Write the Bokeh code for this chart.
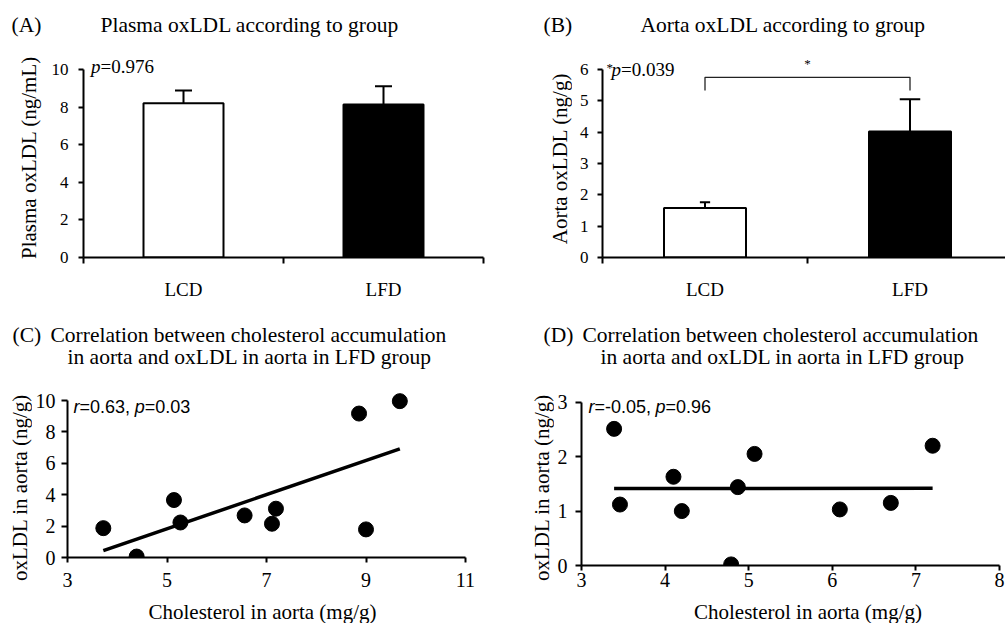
import numpy as np
from bokeh.plotting import figure
from bokeh.layouts import column, row
from bokeh.models import Range1d, FixedTicker, Label
from bokeh.embed import file_html
from bokeh.resources import INLINE

# ---------------- data ----------------
groups = ["LCD", "LFD"]
bar_colors = ["white", "black"]

plasma_oxldl = [8.21, 8.14]
plasma_err = [0.67, 0.97]
plasma_p = "=0.976"

aorta_oxldl = [1.58, 4.02]
aorta_err = [0.18, 1.03]
aorta_p = "=0.039"
bracket_top = 5.75
bracket_drop = 5.33

c_chol = [3.72, 4.39, 5.14, 5.27, 6.56, 7.11, 7.19, 8.86, 9.00, 9.68]
c_oxldl = [1.87, 0.06, 3.66, 2.23, 2.68, 2.15, 3.11, 9.17, 1.79, 9.96]
c_r, c_p = "=0.63, ", "=0.03"

d_chol = [3.39, 3.46, 4.10, 4.20, 4.79, 4.87, 5.07, 6.09, 6.70, 7.20]
d_oxldl = [2.51, 1.12, 1.63, 1.00, 0.02, 1.44, 2.05, 1.03, 1.15, 2.20]
d_r, d_p = "=-0.05, ", "=0.96"

a_yticks = [0, 2, 4, 6, 8, 10]
b_yticks = [0, 1, 2, 3, 4, 5, 6]
c_xticks = [3, 5, 7, 9, 11]
c_yticks = [0, 2, 4, 6, 8, 10]
d_xticks = [3, 4, 5, 6, 7, 8]
d_yticks = [0, 1, 2, 3]

title_a = "Plasma oxLDL according to group"
title_b = "Aorta oxLDL according to group"
title_cd = ["Correlation between cholesterol accumulation",
            "in aorta and oxLDL in aorta in LFD group"]
ylab_a = "Plasma oxLDL (ng/mL)"
ylab_b = "Aorta oxLDL (ng/g)"
ylab_cd = "oxLDL in aorta (ng/g)"
xlab_cd = "Cholesterol in aorta (mg/g)"

SERIF = "Liberation Serif"
SANS = "Liberation Sans"
W = 997
BASE_FIX = 0.33  # em: correction so the given y is the alphabetic baseline


def base_fig(left, top, width, height, bl, br, bt, bb, xr, yr, xloc="below", yloc="left"):
    p = figure(width=width, height=height, x_range=Range1d(*xr), y_range=Range1d(*yr),
               output_backend="svg", toolbar_location=None, tools="",
               x_axis_location=xloc, y_axis_location=yloc,
               min_border_left=bl, min_border_right=br, min_border_top=bt, min_border_bottom=bb)
    p.frame_align = False
    p.grid.visible = False
    p.outline_line_color = None
    p.background_fill_color = "white"
    p.border_fill_color = "white"
    g = dict(L=left + bl, R=left + width - br, T=top + bt, B=top + height - bb, xr=xr, yr=yr)
    return p, g


def style_axis(ax, size, standoff, tick_out=5):
    ax.axis_line_width = 2
    ax.axis_line_color = "black"
    ax.major_tick_line_width = 2
    ax.major_tick_line_color = "black"
    ax.major_tick_in = 0
    ax.major_tick_out = tick_out
    ax.minor_tick_line_color = None
    ax.major_label_text_font = SERIF
    ax.major_label_text_font_size = f"{size}px"
    ax.major_label_text_color = "black"
    ax.major_label_standoff = standoff


def strip(left, top, width, height):
    return base_fig(left, top, width, height, 0, 0, 0, 0, (0, width), (0, height),
                    xloc=None, yloc=None)


def to_data(g, px, py):
    x = g["xr"][0] + (px - g["L"]) / (g["R"] - g["L"]) * (g["xr"][1] - g["xr"][0])
    y = g["yr"][0] + (g["B"] - py) / (g["B"] - g["T"]) * (g["yr"][1] - g["yr"][0])
    return x, y


def to_page_x(g, x):
    return g["L"] + (x - g["xr"][0]) / (g["xr"][1] - g["xr"][0]) * (g["R"] - g["L"])


def put(p, g, px, py, text, size, font=SERIF, style="normal", align="left",
        baseline="alphabetic", angle=0.0):
    if baseline == "alphabetic":
        py = py - BASE_FIX * size
    x, y = to_data(g, px, py)
    p.add_layout(Label(x=x, y=y, text=text, text_font=font, text_font_size=f"{size}px",
                       text_font_style=style, text_align=align, text_baseline=baseline,
                       angle=angle, text_color="black"))


def vlabel(left, top, width, height, cx, cy, text):
    s, g = strip(left, top, width, height)
    put(s, g, cx, cy, text, 21, align="center", baseline="middle", angle=np.pi / 2)
    return s


def bar_panel(p, values, errs, cap_w, yticks, ylim, ystandoff):
    centers = [i + 0.5 for i in range(len(groups))]
    bounds = [float(i) for i in range(len(groups) + 1)]
    p.vbar(x=centers, top=values, bottom=0, width=0.4, fill_color=bar_colors,
           line_color="black", line_width=2)
    ups = [v + e for v, e in zip(values, errs)]
    p.segment(x0=centers, y0=values, x1=centers, y1=ups, line_color="black", line_width=2)
    p.segment(x0=[c - w / 2 for c, w in zip(centers, cap_w)], y0=ups,
              x1=[c + w / 2 for c, w in zip(centers, cap_w)], y1=ups,
              line_color="black", line_width=2)
    ax = p.xaxis[0]
    style_axis(ax, 19, 15, tick_out=0)
    ax.ticker = FixedTicker(ticks=centers, minor_ticks=bounds)
    ax.major_label_overrides = {c: n for c, n in zip(centers, groups)}
    ax.major_tick_line_color = None
    ax.minor_tick_line_color = "black"
    ax.minor_tick_line_width = 2
    ax.minor_tick_out = 6
    ax.minor_tick_in = 0
    ay = p.yaxis[0]
    style_axis(ay, 17, ystandoff)
    ay.ticker = FixedTicker(ticks=yticks)
    ay.bounds = ylim
    return centers


def scatter_panel(p, xs, ys, xt, yt, ylim, x_standoff, y_standoff):
    p.scatter(x=xs, y=ys, size=15, marker="circle", fill_color="black", line_color="black")
    k = np.polyfit(xs, ys, 1)
    lx = np.array([min(xs), max(xs)])
    p.line(x=lx, y=np.polyval(k, lx), line_color="black", line_width=3.5)
    ax = p.xaxis[0]
    style_axis(ax, 20, x_standoff, tick_out=5)
    ax.ticker = FixedTicker(ticks=xt)
    ay = p.yaxis[0]
    style_axis(ay, 20, y_standoff, tick_out=6)
    ay.ticker = FixedTicker(ticks=yt)
    ay.bounds = ylim


# ---------------- top titles strip (page y 8..50) ----------------
sT, gT = strip(8, 8, W, 42)
put(sT, gT, 11, 32, "(A)", 21.5)
put(sT, gT, 100, 32, title_a, 21.5)
put(sT, gT, 543, 32, "(B)", 21.5)
put(sT, gT, 640, 32, title_b, 21.5)

# ---------------- (A) page x 45..502, y 50..308 ----------------
sYA = vlabel(8, 50, 37, 258, 28.5, 157, ylab_a)
pA, gA = base_fig(45, 50, 457, 258, 38, 19, 0, 51, (0, 2), (0, 10 * 207 / 188))
bar_panel(pA, plasma_oxldl, plasma_err, [0.085, 0.085], a_yticks, (0, 10), 10)
put(pA, gA, 90.5, 72, "p", 19, style="italic")
put(pA, gA, 100, 72, plasma_p, 19)

# ---------------- (B) page x 572..1005 ----------------
sYB = vlabel(502, 50, 70, 258, 559, 158, ylab_b)
pB, gB = base_fig(572, 50, 433, 258, 30, 0, 0, 51, (0, 403 / 205), (0, 6 * 207 / 188))
cB = bar_panel(pB, aorta_oxldl, aorta_err, [0.05, 0.1], b_yticks, (0, 6), 9)
pB.line(x=[cB[0], cB[0], cB[1], cB[1]], y=[bracket_drop, bracket_top, bracket_top, bracket_drop],
        line_color="#222222", line_width=1.3)
put(pB, gB, 606, 71, "*", 13)
put(pB, gB, 611, 75, "p", 19, style="italic")
put(pB, gB, 620.5, 75, aorta_p, 19)
put(pB, gB, to_page_x(gB, (cB[0] + cB[1]) / 2), 67, "*", 13, align="center")

# ---------------- middle titles strip (page y 308..385) ----------------
sM, gM = strip(8, 308, W, 77)
put(sM, gM, 12, 342, "(C)", 21.5)
put(sM, gM, 50, 342, title_cd[0], 21.5)
put(sM, gM, 67, 364, title_cd[1], 21.5)
put(sM, gM, 543, 342, "(D)", 21.5)
put(sM, gM, 582, 342, title_cd[0], 21.5)
put(sM, gM, 600, 364, title_cd[1], 21.5)

# ---------------- (C) page x 32..502, y 385..597 ----------------
ROW2_H = 212
sYC = vlabel(8, 385, 24, ROW2_H, 19.8, 487, ylab_cd)
c_y1 = 10 + (400 - 385) / 15.67
pC, gC = base_fig(32, 385, 470, ROW2_H, 34, 37, 0, 40, (3, 11), (0, c_y1))
scatter_panel(pC, c_chol, c_oxldl, c_xticks, c_yticks, (0, 10), 10, 6)
put(pC, gC, 72, 412, "r", 18, font=SANS, style="italic")
put(pC, gC, 78, 412, c_r, 18, font=SANS)
put(pC, gC, 133.5, 412, "p", 18, font=SANS, style="italic")
put(pC, gC, 143.5, 412, c_p, 18, font=SANS)

# ---------------- (D) page x 554..1005 ----------------
sYD = vlabel(502, 385, 52, ROW2_H, 541, 487, ylab_cd)
d_y1 = 3 + (401.7 - 385) / 54.43
pD, gD = base_fig(554, 385, 451, ROW2_H, 24, 6, 0, 32, (3, 8), (0, d_y1))
scatter_panel(pD, d_chol, d_oxldl, d_xticks, d_yticks, (0, 3), 2, 8)
put(pD, gD, 585, 412, "r", 18, font=SANS, style="italic")
put(pD, gD, 591, 412, d_r, 18, font=SANS)
put(pD, gD, 652.5, 412, "p", 18, font=SANS, style="italic")
put(pD, gD, 662.5, 412, d_p, 18, font=SANS)

# ---------------- bottom x-label strip (page y 597..623) ----------------
sB, gBt = strip(8, 597, W, 26)
put(sB, gBt, 262, 618, xlab_cd, 21, align="center")
put(sB, gBt, 807.5, 618, xlab_cd, 21, align="center")

layout = column(
    sT,
    row(sYA, pA, sYB, pB),
    sM,
    row(sYC, pC, sYD, pD),
    sB,
    margin=(8, 0, 0, 8),
)
open("out.html", "w").write(file_html(layout, INLINE))
